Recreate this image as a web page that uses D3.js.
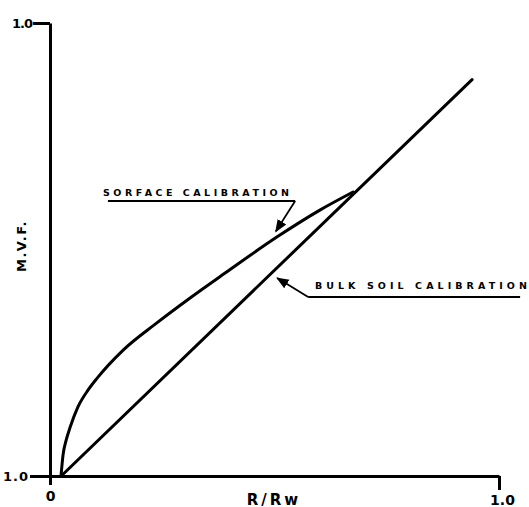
<!DOCTYPE html>
<html>
<head>
<meta charset="utf-8">
<script src="https://cdn.jsdelivr.net/npm/d3@7"></script>
<style>
  body { margin: 0; background: #fff; }
  svg { display: block; }
  text { font-family: "DejaVu Sans", sans-serif; font-weight: bold; fill: #000; }
</style>
</head>
<body>
<svg id="chart" width="529" height="507"></svg>
<script>
// values (R/Rw on x, M.V.F. on y)
var xTicks = [0, 1];
var xTickLabels = ["0", "1.0"];
var yTicks = [0, 1];
var yTickLabels = ["1.0", "1.0"];

var bulkR = [0.025, 0.94];
var bulkMVF = [0.0, 0.875];

var surfR =   [0.0245, 0.029, 0.036, 0.045, 0.062, 0.085, 0.105, 0.163, 0.238, 0.312, 0.390, 0.506, 0.601, 0.675];
var surfMVF = [0.0,    0.046, 0.079, 0.108, 0.152, 0.190, 0.216, 0.278, 0.338, 0.393, 0.448, 0.528, 0.587, 0.627];

// annotation labels: text start, underline ends, arrow tip (data units)
var notes = [
  { text: "SORFACE  CALIBRATION", tx: 0.118, ty: 0.618, len: 186, x1: 0.129, x2: 0.546, uy: 0.607, tipX: 0.503, tipY: 0.54, fromX: 0.546 },
  { text: "BULK  SOIL  CALIBRATION", tx: 0.59, ty: 0.413, len: 212, x1: 0.575, x2: 1.047, uy: 0.395, tipX: 0.506, tipY: 0.437, fromX: 0.575 }
];

var svg = d3.select("#chart");
var x = d3.scaleLinear().domain([0, 1]).range([50, 499]);
var y = d3.scaleLinear().domain([0, 1]).range([476, 23]);

// axes
var xAxis = d3.axisBottom(x).tickValues(xTicks).tickSize(14).tickSizeOuter(0).tickPadding(3)
  .tickFormat(function(d, i) { return xTickLabels[i]; });
var gx = svg.append("g").attr("transform", "translate(0," + y(0) + ")").call(xAxis);
gx.select(".domain").attr("stroke-width", 3);
gx.selectAll(".tick line").attr("stroke-width", 3)
  .attr("y2", function(d) { return d == 0 ? 9 : 14; });
gx.selectAll(".tick text").style("font-size", "14px")
  .attr("dx", function(d) { return d == 1 ? 3 : 0; })
  .attr("y", function(d) { return d == 0 ? 15 : 19; });

var yAxis = d3.axisLeft(y).tickValues(yTicks).tickSize(18).tickSizeOuter(0).tickPadding(1)
  .tickFormat(function(d, i) { return yTickLabels[i]; });
var gy = svg.append("g").attr("transform", "translate(" + x(0) + ",0)").call(yAxis);
gy.select(".domain").attr("stroke-width", 3);
gy.selectAll(".tick line").attr("stroke-width", 3)
  .attr("x2", function(d) { return d == 0 ? -20 : -17; });
gy.selectAll(".tick text").style("font-size", "13px")
  .style("letter-spacing", function(d) { return d == 0 ? "1px" : "-1px"; })
  .attr("x", function(d) { return d == 0 ? -21 : -18; });

// axis titles
svg.append("text")
  .attr("transform", "translate(26,246) rotate(-90)")
  .attr("text-anchor", "middle")
  .style("font-size", "13px")
  .style("letter-spacing", "1.5px")
  .text("M.V.F.");

svg.append("text")
  .attr("x", 274).attr("y", 505)
  .attr("text-anchor", "middle")
  .style("font-size", "15px")
  .style("letter-spacing", "3px")
  .text("R/Rw");

// curves
var line = d3.line().x(function(d) { return x(d[0]); }).y(function(d) { return y(d[1]); });

svg.append("path")
  .datum(d3.zip(bulkR, bulkMVF))
  .attr("d", line)
  .attr("fill", "none").attr("stroke", "#000").attr("stroke-width", 3).attr("stroke-linecap", "round");

svg.append("path")
  .datum(d3.zip(surfR, surfMVF))
  .attr("d", line.curve(d3.curveMonotoneX))
  .attr("fill", "none").attr("stroke", "#000").attr("stroke-width", 3).attr("stroke-linecap", "round");

// annotations
svg.append("defs").append("marker")
  .attr("id", "arrow").attr("viewBox", "0 0 10 10").attr("refX", 9).attr("refY", 5)
  .attr("markerWidth", 7).attr("markerHeight", 7).attr("orient", "auto")
  .append("path").attr("d", "M0,1 L10,5 L0,9 Z").attr("fill", "#000");

notes.forEach(function(n) {
  svg.append("text")
    .attr("x", x(n.tx)).attr("y", y(n.ty))
    .attr("textLength", n.len).attr("lengthAdjust", "spacing")
    .style("font-size", "9.5px")
    .text(n.text);
  svg.append("line")
    .attr("x1", x(n.x1)).attr("x2", x(n.x2)).attr("y1", y(n.uy)).attr("y2", y(n.uy))
    .attr("stroke", "#000").attr("stroke-width", 2);
  svg.append("line")
    .attr("x1", x(n.fromX)).attr("y1", y(n.uy)).attr("x2", x(n.tipX)).attr("y2", y(n.tipY))
    .attr("stroke", "#000").attr("stroke-width", 1.8).attr("marker-end", "url(#arrow)");
});
</script>
</body>
</html>
